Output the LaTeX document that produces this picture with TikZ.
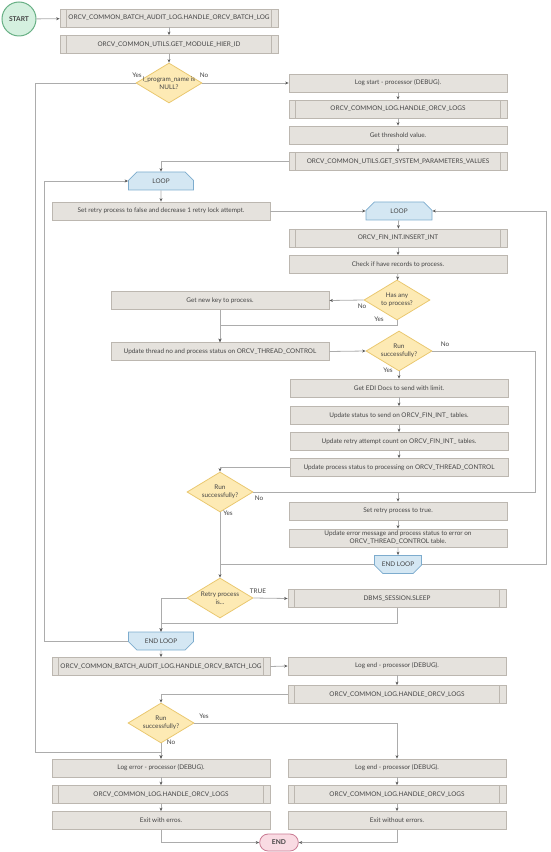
\documentclass[tikz,border=0pt]{standalone}
\usepackage{fontspec}
\setmainfont{Lato}
\usetikzlibrary{arrows.meta,shapes.geometric,shapes.misc}

\definecolor{boxfill}{RGB}{229,226,221}
\definecolor{boxdraw}{RGB}{188,183,176}
\definecolor{decfill}{RGB}{253,234,180}
\definecolor{decdraw}{RGB}{234,200,112}
\definecolor{loopfill}{RGB}{212,231,243}
\definecolor{loopdraw}{RGB}{125,172,206}
\definecolor{startfill}{RGB}{212,240,223}
\definecolor{startdraw}{RGB}{104,176,133}
\definecolor{endfill}{RGB}{249,219,227}
\definecolor{enddraw}{RGB}{201,122,147}
\definecolor{linecol}{RGB}{172,172,172}
\definecolor{tipcol}{RGB}{90,90,90}
\definecolor{txtcol}{RGB}{68,68,68}

\tikzset{every picture/.style={line width=0.75pt}}
\tikzset{
  small/.style={font=\fontsize{4.8}{6}\selectfont, text=txtcol},
  proc/.style={small, draw=boxdraw, fill=boxfill, line width=0.6pt, minimum width=163.5pt, minimum height=13.5pt, inner sep=0.75pt, align=center},
  subproc/.style={proc, path picture={
      \draw[boxdraw, line width=0.6pt] ([xshift=5pt]path picture bounding box.north west) -- ([xshift=5pt]path picture bounding box.south west)
        ([xshift=-5pt]path picture bounding box.north east) -- ([xshift=-5pt]path picture bounding box.south east);}},
  decision/.style={diamond, draw=decdraw, fill=decfill, line width=0.6pt, minimum width=49.5pt, minimum height=30pt, inner sep=0pt},
  dtxt/.style={small, align=center, inner sep=0pt},
  looptop/.style={small, chamfered rectangle, chamfered rectangle corners={north west,north east}, chamfered rectangle xsep=6.5pt, chamfered rectangle ysep=4pt, draw=loopdraw, fill=loopfill, line width=0.6pt, minimum width=48.75pt, minimum height=13.5pt, inner sep=0.5pt},
  loopend/.style={looptop, chamfered rectangle corners={south west,south east}},
  conn/.style={draw=linecol, line width=0.6pt, -{Stealth[length=2.6pt,width=2.2pt,color=tipcol]}},
  line/.style={draw=linecol, line width=0.6pt},
  lbl/.style={small, inner sep=0.5pt}
}

\begin{document}
\begin{tikzpicture}[x=0.75pt,y=0.75pt,yscale=-1,xscale=1]
\useasboundingbox (0,0) rectangle (550,852);

%Terminators
\node [circle, draw=startdraw, fill=startfill, minimum size=25.5pt, inner sep=0pt, font=\fontsize{5}{6}\bfseries, text=txtcol] (start) at (19,19) {START};
\node [rounded rectangle, draw=enddraw, fill=endfill, line width=0.6pt, minimum width=29pt, minimum height=12.75pt, inner sep=0pt, font=\fontsize{5}{6}\bfseries, text=txtcol] (end) at (279,842.5) {END};

%Top part
\node [subproc] (auditlog) at (169,18) {ORCV\_COMMON\_BATCH\_AUDIT\_LOG.HANDLE\_ORCV\_BATCH\_LOG};
\node [subproc] (hierid) at (169,44.5) {ORCV\_COMMON\_UTILS.GET\_MODULE\_HIER\_ID};
\node [decision, label={[dtxt]center:l\_program\_name is\\NULL?}] (isnull) at (169,83) {};

%Right column
\node [proc] (logstart) at (398,83) {Log start - processor (DEBUG).};
\node [subproc] (orcvlogs) at (398,109) {ORCV\_COMMON\_LOG.HANDLE\_ORCV\_LOGS};
\node [proc] (threshold) at (398,135) {Get threshold value.};
\node [subproc] (sysparams) at (398,161.5) {ORCV\_COMMON\_UTILS.GET\_SYSTEM\_PARAMETERS\_VALUES};

%Outer loop
\node [looptop] (outerloop) at (161,181) {LOOP};
\node [proc] (retryfalse) at (161,211) {Set retry process to false and decrease 1 retry lock attempt.};

%Inner loop
\node [looptop, minimum width=49.5pt] (innerloop) at (399,211) {LOOP};
\node [subproc] (insertint) at (398,238) {ORCV\_FIN\_INT.INSERT\_INT};
\node [proc] (checkrec) at (398,264.5) {Check if have records to process.};
\node [decision, label={[dtxt]center:Has any\\to process?}] (hasany) at (397,300) {};
\node [proc] (newkey) at (220,300.5) {Get new key to process.};
\node [proc] (threadno) at (220,351.5) {Update thread no and process status on ORCV\_THREAD\_CONTROL};
\node [decision, label={[dtxt]center:Run\\successfully?}] (runok1) at (399,351) {};
\node [proc] (edidocs) at (399,388) {Get EDI Docs to send with limit.};
\node [proc] (tosend) at (399,415.5) {Update status to send on ORCV\_FIN\_INT\_ tables.};
\node [proc] (retrycount) at (399,441.5) {Update retry attempt count on ORCV\_FIN\_INT\_ tables.};
\node [proc] (processing) at (399,467.5) {Update process status to processing on ORCV\_THREAD\_CONTROL};
\node [decision, label={[dtxt]center:Run\\successfully?}] (runok2) at (220,492) {};
\node [proc] (retrytrue) at (398,511) {Set retry process to true.};
\node [proc] (errmsg) at (398,538) {Update error message and process status to error on\\ORCV\_THREAD\_CONTROL table.};
\node [loopend, minimum width=35.25pt] (innerend) at (398,564.5) {END LOOP};

\node [decision, label={[dtxt]center:Retry process\\is...}] (retryis) at (220,598) {};
\node [subproc] (sleep) at (397,598.5) {DBMS\_SESSION.SLEEP};
\node [loopend] (outerend) at (161,641) {END LOOP};

%Bottom part
\node [subproc] (batchlog) at (161,666.5) {ORCV\_COMMON\_BATCH\_AUDIT\_LOG.HANDLE\_ORCV\_BATCH\_LOG};
\node [proc] (logend1) at (397,666) {Log end - processor (DEBUG).};
\node [subproc] (orcvlogs2) at (397,694.5) {ORCV\_COMMON\_LOG.HANDLE\_ORCV\_LOGS};
\node [decision, label={[dtxt]center:Run\\successfully?}] (runok3) at (161,723) {};
\node [proc] (logerror) at (161,768) {Log error - processor (DEBUG).};
\node [subproc] (orcvlogs3) at (161,794.5) {ORCV\_COMMON\_LOG.HANDLE\_ORCV\_LOGS};
\node [proc] (exiterr) at (161,820.5) {Exit with erros.};
\node [proc] (logend2) at (397,768) {Log end - processor (DEBUG).};
\node [subproc] (orcvlogs4) at (397,794.5) {ORCV\_COMMON\_LOG.HANDLE\_ORCV\_LOGS};
\node [proc] (exitok) at (397,820.5) {Exit without errors.};

%Bend points
\coordinate (yesleft) at (35,752);
\coordinate (hasyes) at (397,325);
\coordinate (failright) at (535,492);
\coordinate (backinner) at (546,564.5);
\coordinate (sleepdown) at (397,623);
\coordinate (backouter) at (44,641);

%Connectors
\draw [conn] (start) -- (auditlog);
\draw [conn] (auditlog) -- (hierid);
\draw [conn] (hierid) -- (isnull);
\draw [conn] (isnull.west) -| (yesleft) -| (logerror.north);
\draw [conn] (isnull.east) -- (logstart.west);
\draw [conn] (logstart) -- (orcvlogs);
\draw [conn] (orcvlogs) -- (threshold);
\draw [conn] (threshold) -- (sysparams);
\draw [conn] (sysparams.west) -| (outerloop.north);
\draw [conn] (outerloop) -- (retryfalse);
\draw [conn] (retryfalse.east) -- (innerloop.west);
\draw [conn] (innerloop) -- (insertint);
\draw [conn] (insertint) -- (checkrec);
\draw [conn] (checkrec) -- (hasany);
\draw [conn] (hasany.west) -- (newkey.east);
\draw [conn] (hasany.south) -- (hasyes) -| (threadno.north);
\draw [conn] (newkey) -- (threadno);
\draw [conn] (threadno.east) -- (runok1.west);
\draw [conn] (runok1.south) -- (edidocs.north);
\draw [conn] (runok1.east) -| (failright) -| (retrytrue.north);
\draw [conn] (edidocs) -- (tosend);
\draw [conn] (tosend) -- (retrycount);
\draw [conn] (retrycount) -- (processing);
\draw [conn] (processing.west) -| (runok2.north);
\draw [line] (runok2.east) -- (retrytrue.north |- runok2.east);
\draw [conn] (runok2.south) -- (retryis.north);
\draw [conn] (retrytrue) -- (errmsg);
\draw [conn] (errmsg) -- (innerend);
\draw [conn] (innerend.east) -- (backinner) |- (innerloop.east);
\draw [line] (innerend.west) -- (runok2.south |- innerend.west);
\draw [conn] (retryis.east) -- (sleep.west);
\draw [conn] (retryis.west) -| (outerend.north);
\draw [conn] (sleep.south) -- (sleepdown) -| (outerend.north);
\draw [conn] (outerend.west) -- (backouter) |- (outerloop.west);
\draw [conn] (outerend) -- (batchlog);
\draw [conn] (batchlog.east) -- (logend1.west);
\draw [conn] (logend1) -- (orcvlogs2);
\draw [conn] (orcvlogs2.west) -| (runok3.north);
\draw [conn] (runok3.east) -| (logend2.north);
\draw [conn] (runok3.south) -- (logerror.north);
\draw [conn] (logerror) -- (orcvlogs3);
\draw [conn] (orcvlogs3) -- (exiterr);
\draw [conn] (exiterr.south) |- (end.west);
\draw [conn] (logend2) -- (orcvlogs4);
\draw [conn] (orcvlogs4) -- (exitok);
\draw [conn] (exitok.south) |- (end.east);

% Text Node
\node [lbl] (nullyes) at (137,75) {Yes};
\node [lbl] (nullno) at (204,75) {No};
\node [lbl] (hasno) at (362,306) {No};
\node [lbl] (hasyes2) at (379,319) {Yes};
\node [lbl] (run1no) at (445,344) {No};
\node [lbl] (run1yes) at (388,370) {Yes};
\node [lbl] (run2no) at (259,498) {No};
\node [lbl] (run2yes) at (228,513) {Yes};
\node [lbl] (retrytrue2) at (258,591) {TRUE};
\node [lbl] (run3yes) at (204,716) {Yes};
\node [lbl] (run3no) at (171,742) {No};

\end{tikzpicture}
\end{document}
